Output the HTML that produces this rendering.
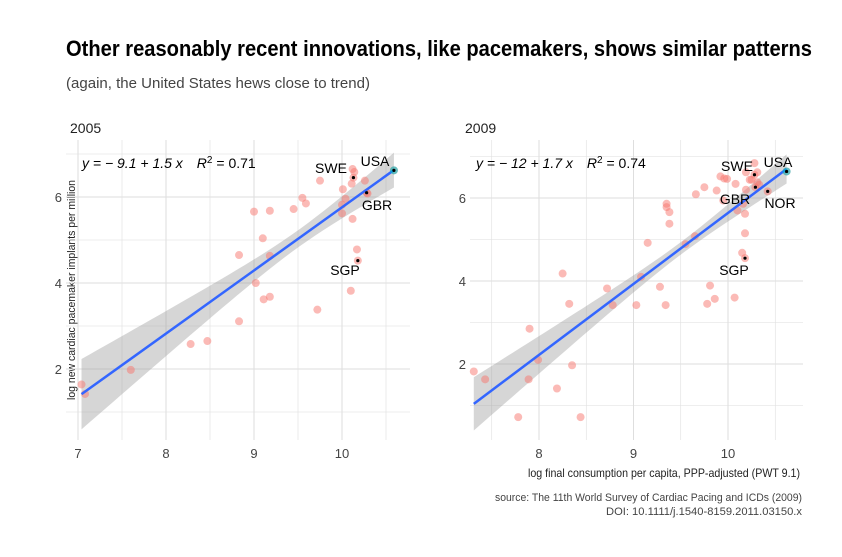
<!DOCTYPE html>
<html><head><meta charset="utf-8"><style>
body{margin:0;background:#fff}
svg{display:block;font-family:"Liberation Sans",sans-serif}
</style></head><body>
<svg id="c" width="842" height="557" viewBox="0 0 842 557">
<rect width="842" height="557" fill="#fff"/>
<text x="66" y="56" font-size="22" font-weight="bold" textLength="746" lengthAdjust="spacingAndGlyphs">Other reasonably recent innovations, like pacemakers, shows similar patterns</text>
<text x="66" y="88" font-size="15" fill="#444" textLength="304" lengthAdjust="spacingAndGlyphs">(again, the United States hews close to trend)</text>
<text x="70" y="133" font-size="14" fill="#222">2005</text>
<text x="465" y="133" font-size="14" fill="#222">2009</text>
<text transform="translate(75,290) rotate(-90)" text-anchor="middle" font-size="11" fill="#222" textLength="220" lengthAdjust="spacingAndGlyphs">log new cardiac pacemaker implants per million</text>
<text x="800" y="477" text-anchor="end" font-size="12" fill="#222" textLength="272" lengthAdjust="spacingAndGlyphs">log final consumption per capita, PPP-adjusted (PWT 9.1)</text>
<text x="802" y="501" text-anchor="end" font-size="11" fill="#444" textLength="307" lengthAdjust="spacingAndGlyphs">source: The 11th World Survey of Cardiac Pacing and ICDs (2009)</text>
<text x="802" y="515" text-anchor="end" font-size="11" fill="#444" textLength="196" lengthAdjust="spacingAndGlyphs">DOI: 10.1111/j.1540-8159.2011.03150.x</text>
<g id="p1"></g>
<g id="p2"></g>
</svg>
<script>
const xs2005=[7.04,7.08,7.6,8.28,8.47,8.83,8.83,9.0,9.18,9.1,9.18,9.02,9.11,9.18,9.45,9.55,9.59,9.72,9.75,10.01,10.04,10.0,10.0,10.11,10.12,10.14,10.13,10.12,10.17,10.18,10.1,10.26,10.28,10.29,10.59];
const ys2005=[1.64,1.42,1.98,2.58,2.65,4.65,3.11,5.66,5.68,5.04,4.63,4.0,3.62,3.68,5.72,5.98,5.85,3.38,6.38,6.18,5.96,5.82,5.62,6.31,6.65,6.58,6.45,5.49,4.78,4.52,3.82,6.38,6.1,6.08,6.62];
const xs2009=[7.31,7.43,7.78,7.89,7.9,7.99,8.19,8.25,8.32,8.35,8.44,8.72,8.78,9.03,9.08,9.15,9.28,9.34,9.35,9.35,9.38,9.38,9.55,9.65,9.66,9.75,9.78,9.81,9.86,9.88,9.92,9.96,9.99,10.08,10.07,9.95,10.1,10.16,10.15,10.18,10.18,10.18,10.19,10.19,10.23,10.25,10.28,10.28,10.31,10.29,10.31,10.33,10.42,10.62];
const ys2009=[1.82,1.63,0.72,1.63,2.85,2.1,1.41,4.18,3.45,1.97,0.72,3.82,3.42,3.42,4.1,4.92,3.86,3.42,5.78,5.86,5.66,5.38,4.89,5.08,6.09,6.26,3.45,3.89,3.57,6.18,6.52,6.47,6.46,6.34,3.6,5.94,5.7,5.86,4.68,4.55,5.62,5.15,6.2,6.62,6.44,6.44,6.84,6.56,6.62,6.26,6.38,6.32,6.16,6.64];
const labels2005=[["USA",10.59,6.62,375,166,1],["SWE",10.13,6.45,331,173,0],["GBR",10.28,6.1,377,210,0],["SGP",10.18,4.52,345,275,0]];
const labels2009=[["USA",10.62,6.64,778,167,1],["SWE",10.28,6.56,737,171,0],["GBR",10.29,6.26,735,204,0],["NOR",10.42,6.16,780,208,0],["SGP",10.18,4.55,734,275,0]];
const fit2005=[-8.92,1.468,9.5,0.04,0.104];
const fit2009=[-11.46,1.71,9.5,0.0225,0.081];
const eq2005="y = \u2212 9.1 + 1.5 x", r2005="0.71";
const eq2009="y = \u2212 12 + 1.7 x", r2009="0.74";
const NS="http://www.w3.org/2000/svg";
function mk(p,t,a){const e=document.createElementNS(NS,t);for(const k in a)e.setAttribute(k,a[k]);p.appendChild(e);return e;}
function panel(g,cfg,xs,ys,labs,fit,eq,r2){
  const X=v=>cfg.x0+(v-cfg.xr)*cfg.kx, Y=v=>cfg.y0-(v-6)*cfg.ky;
  for(let v=cfg.xmin;v<=cfg.xmax;v+=0.5){const major=v%1===0;
    const l=mk(g,'line',{x1:X(v),x2:X(v),y1:cfg.top,y2:cfg.bot,stroke:'#dedede','stroke-width':major?1:0.6});
    
    
    if(major){const t=mk(g,'text',{x:X(v),y:cfg.bot+18,'text-anchor':'middle','font-size':13,fill:'#444'});t.textContent=v;
      
      }}
  for(let v=1;v<=7;v++){
    const l=mk(g,'line',{x1:cfg.left,x2:cfg.right,y1:Y(v),y2:Y(v),stroke:'#dedede','stroke-width':v%2?0.6:1});
    
    
    if(v%2===0){const t=mk(g,'text',{x:cfg.left-4,y:Y(v)+5,'text-anchor':'end','font-size':13,fill:'#444'});t.textContent=v;
      
      }}
  const a=Math.min(...xs),b=Math.max(...xs);let up=[],dn=[];
  for(let i=0;i<=40;i++){const x=a+(b-a)*i/40,yy=fit[0]+fit[1]*x,h=Math.sqrt(fit[3]+fit[4]*(x-fit[2])**2);
    up.push(X(x)+','+Y(yy+h));dn.unshift(X(x)+','+Y(yy-h));}
  const rib=mk(g,'polygon',{points:up.concat(dn).join(' '),fill:'#999','fill-opacity':0.4});
  
  
  for(let i=0;i<xs.length;i++){const c=mk(g,'circle',{cx:X(xs[i]),cy:Y(ys[i]),r:4,fill:'#f8766d','fill-opacity':0.5});
    
    }
  const ln=mk(g,'line',{x1:X(a),y1:Y(fit[0]+fit[1]*a),x2:X(b),y2:Y(fit[0]+fit[1]*b),stroke:'#3366ff','stroke-width':2.5});
  
  
  labs.forEach(L=>{
    if(L[5]){const c=mk(g,'circle',{cx:X(L[1]),cy:Y(L[2]),r:4,fill:'#00bfc4','fill-opacity':0.6});
      
      }
    const d=mk(g,'circle',{cx:X(L[1]),cy:Y(L[2]),r:1.6,fill:'#000'});
    
    
    const t=mk(g,'text',{x:L[3],y:L[4],'font-size':14,fill:'#000','text-anchor':'middle'});t.textContent=L[0];
    
    });
  const e=mk(g,'text',{x:cfg.eqx,y:168,'font-size':14,fill:'#000'});
  
  
  e.innerHTML='<tspan font-style="italic">'+eq+'</tspan><tspan dx="14" font-style="italic">R</tspan><tspan dy="-5" font-size="10">2</tspan><tspan dy="5"> = '+r2+'</tspan>';
}
panel(document.getElementById('p1'),{x0:78,xr:7,kx:88,y0:197,ky:43,xmin:7,xmax:10.5,left:66,right:410,top:140,bot:440,eqx:82},xs2005,ys2005,labels2005,fit2005,eq2005,r2005);
panel(document.getElementById('p2'),{x0:539,xr:8,kx:94.5,y0:198,ky:41.5,xmin:7.5,xmax:10.5,left:470,right:803,top:140,bot:440,eqx:476},xs2009,ys2009,labels2009,fit2009,eq2009,r2009);
</script>
</body></html>
